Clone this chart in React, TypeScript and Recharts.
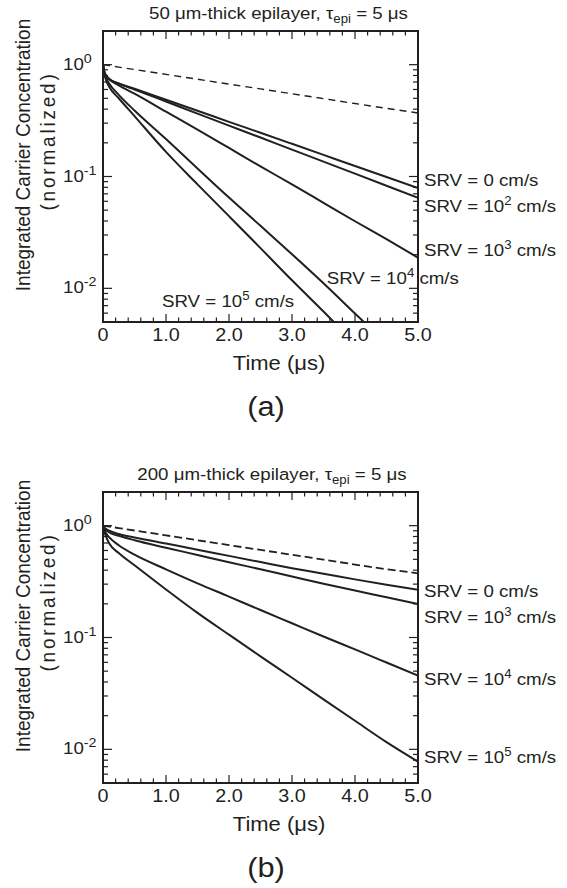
import React from "react";
import { LineChart, Line, XAxis, YAxis } from "recharts";

// ---------- data ----------
const TIMES = [0, 0.02, 0.05, 0.1, 0.25, 0.5, 1, 1.5, 2, 2.5, 3, 3.5, 4, 4.5, 5];

// (a) 50 um-thick epilayer
const A_BULK = [1, 0.996, 0.99, 0.98, 0.951, 0.905, 0.819, 0.741, 0.67, 0.607, 0.549, 0.497, 0.449, 0.407, 0.37];
const A_SRV0 = [1, 0.87, 0.8, 0.745, 0.68, 0.609, 0.485, 0.387, 0.308, 0.246, 0.196, 0.156, 0.124, 0.099, 0.079];
const A_SRV2 = [1, 0.87, 0.8, 0.743, 0.676, 0.599, 0.468, 0.365, 0.285, 0.223, 0.174, 0.136, 0.106, 0.0827, 0.0646];
const A_SRV3 = [1, 0.86, 0.785, 0.735, 0.653, 0.55, 0.38, 0.263, 0.18, 0.123, 0.0851, 0.0582, 0.0398, 0.0275, 0.0188];
const A_SRV4 = [1, 0.851, 0.759, 0.676, 0.537, 0.389, 0.216, 0.118, 0.0648, 0.0362, 0.0202, 0.0111, 0.00595, 0.0032, 0.00172];
const A_SRV5 = [1, 0.832, 0.724, 0.631, 0.501, 0.347, 0.166, 0.0851, 0.0442, 0.0229, 0.0118, 0.0062, 0.00322, 0.00165, 0.00085];

// (b) 200 um-thick epilayer
const B_BULK = [1, 0.996, 0.99, 0.98, 0.951, 0.905, 0.819, 0.741, 0.67, 0.607, 0.549, 0.497, 0.449, 0.407, 0.375];
const B_SRV0 = [1, 0.966, 0.933, 0.902, 0.841, 0.785, 0.692, 0.61, 0.537, 0.473, 0.417, 0.372, 0.331, 0.296, 0.267];
const B_SRV3 = [1, 0.95, 0.912, 0.871, 0.813, 0.741, 0.635, 0.547, 0.471, 0.407, 0.351, 0.303, 0.263, 0.229, 0.199];
const B_SRV4 = [1, 0.92, 0.851, 0.785, 0.668, 0.55, 0.407, 0.305, 0.232, 0.176, 0.134, 0.102, 0.0782, 0.0598, 0.0457];
const B_SRV5 = [1, 0.891, 0.794, 0.692, 0.569, 0.442, 0.269, 0.166, 0.106, 0.0679, 0.0437, 0.028, 0.018, 0.0116, 0.00776];

const X_TICKS = [0, 0.2, 0.4, 0.6, 0.8, 1, 1.2, 1.4, 1.6, 1.8, 2, 2.2, 2.4, 2.6, 2.8, 3, 3.2, 3.4, 3.6, 3.8, 4, 4.2, 4.4, 4.6, 4.8, 5];
const X_LABELS: Record<string, string> = { "0": "0", "1": "1.0", "2": "2.0", "3": "3.0", "4": "4.0", "5": "5.0" };
const Y_TICKS = [0.006, 0.007, 0.008, 0.009, 0.01, 0.02, 0.03, 0.04, 0.05, 0.06, 0.07, 0.08, 0.09, 0.1, 0.2, 0.3, 0.4, 0.5, 0.6, 0.7, 0.8, 0.9, 1];
const Y_LABELS: Record<string, string> = { "1": "0", "0.1": "-1", "0.01": "-2" };

// ---------- style ----------
const INK = "#231f20";
const FONT = "'Liberation Sans', Arial, Helvetica, sans-serif";
const SX = 1.1;
const W = 567;
const H = 444;
const MARGIN = { top: 30, right: 148, bottom: 121, left: 102 };
const AXL = { stroke: INK, strokeWidth: 2, strokeLinecap: "square" as const };

const isMajorX = (v: number) => Math.abs(v - Math.round(v)) < 1e-6;

const BottomTick = (p: any) => {
  const { x, y, payload } = p;
  const v = payload.value;
  const major = isMajorX(v);
  return (
    <g>
      <line x1={x} x2={x} y1={y} y2={y - (major ? 8 : 4.5)} stroke={INK} strokeWidth={1.2} />
      {major && (
        <text transform={`translate(${x},${y + 19}) scale(${SX},1)`} textAnchor="middle" fontSize={18} fill={INK} fontFamily={FONT}>
          {X_LABELS[String(Math.round(v))]}
        </text>
      )}
    </g>
  );
};

const TopTick = (p: any) => {
  const { x, y, payload } = p;
  const major = isMajorX(payload.value);
  return <line x1={x} x2={x} y1={y} y2={y + (major ? 8 : 4.5)} stroke={INK} strokeWidth={1.2} />;
};

const LeftTick = (p: any) => {
  const { x, y, payload } = p;
  const lab = Y_LABELS[String(payload.value)];
  return (
    <g>
      <line x1={x} x2={x + (lab ? 9 : 5)} y1={y} y2={y} stroke={INK} strokeWidth={1.2} />
      {lab && (
        <text transform={`translate(${x - 40},${y + 5}) scale(${SX},1)`} textAnchor="start" fontSize={17} fill={INK} fontFamily={FONT}>
          10
          <tspan fontSize={13} dy={-7}>
            {lab}
          </tspan>
        </text>
      )}
    </g>
  );
};

const RightTick = (p: any) => {
  const { x, y, payload } = p;
  const lab = Y_LABELS[String(payload.value)];
  return <line x1={x} x2={x - (lab ? 9 : 5)} y1={y} y2={y} stroke={INK} strokeWidth={1.2} />;
};

type Series = { key: string; values: number[] };

function buildRows(bulk: number[], series: Series[]) {
  return TIMES.map((t, i) => {
    const row: Record<string, number> = { t, bulk: bulk[i] };
    series.forEach((s) => {
      row[s.key] = s.values[i];
    });
    return row;
  });
}

function Panel({ bulk, series, dashW, dash }: { bulk: number[]; series: Series[]; dashW: number; dash: string }) {
  const rows = buildRows(bulk, series);
  return (
    <LineChart width={W} height={H} data={rows} margin={MARGIN}>
      <XAxis
        xAxisId="b"
        dataKey="t"
        type="number"
        domain={[0, 5]}
        allowDataOverflow
        ticks={X_TICKS}
        interval={0}
        height={1}
        tickSize={0}
        tickMargin={0}
        tickLine={false}
        axisLine={AXL}
        tick={(p: any) => <BottomTick {...p} />}
      />
      <XAxis
        xAxisId="t"
        orientation="top"
        dataKey="t"
        type="number"
        domain={[0, 5]}
        allowDataOverflow
        ticks={X_TICKS}
        interval={0}
        height={1}
        tickSize={0}
        tickMargin={0}
        tickLine={false}
        axisLine={AXL}
        tick={(p: any) => <TopTick {...p} />}
      />
      <YAxis
        yAxisId="l"
        type="number"
        scale="log"
        domain={[0.005, 2]}
        allowDataOverflow
        ticks={Y_TICKS}
        interval={0}
        width={1}
        tickSize={0}
        tickMargin={0}
        tickLine={false}
        axisLine={AXL}
        tick={(p: any) => <LeftTick {...p} />}
      />
      <YAxis
        yAxisId="r"
        orientation="right"
        type="number"
        scale="log"
        domain={[0.005, 2]}
        allowDataOverflow
        ticks={Y_TICKS}
        interval={0}
        width={1}
        tickSize={0}
        tickMargin={0}
        tickLine={false}
        axisLine={AXL}
        tick={(p: any) => <RightTick {...p} />}
      />
      <Line
        xAxisId="b"
        yAxisId="l"
        dataKey="bulk"
        type="linear"
        stroke={INK}
        strokeWidth={dashW}
        strokeDasharray={dash}
        dot={false}
        isAnimationActive={false}
      />
      {series.map((s) => (
        <Line
          key={s.key}
          xAxisId="b"
          yAxisId="l"
          dataKey={s.key}
          type="monotone"
          stroke={INK}
          strokeWidth={2}
          dot={false}
          isAnimationActive={false}
        />
      ))}
    </LineChart>
  );
}

function T({ x, y, size, anchor = "start", rotate = false, spacing, children }: any) {
  const tr = `translate(${x},${y}) scale(${SX},1)` + (rotate ? " rotate(-90)" : "");
  return (
    <text transform={tr} fontSize={size} textAnchor={anchor} fill={INK} fontFamily={FONT} letterSpacing={spacing}>
      {children}
    </text>
  );
}

function Sup({ v }: { v: string }) {
  return (
    <>
      <tspan fontSize={12} dy={-7}>
        {v}
      </tspan>
      <tspan dy={7}> cm/s</tspan>
    </>
  );
}

function PanelText({ dy, title, titleX, tag, labels }: any) {
  return (
    <g>
      <T x={titleX} y={19 + dy} size={17}>
        {title}
        <tspan fontSize={12} dy={4}>
          epi
        </tspan>
        <tspan dy={-4}> = 5 μs</tspan>
      </T>
      <T x={30} y={155 + dy} size={19} anchor="middle" rotate>
        Integrated Carrier Concentration
      </T>
      <T x={54.5} y={141 + dy} size={19} anchor="middle" rotate spacing={2.8}>
        (normalized)
      </T>
      <T x={279} y={370 + dy} size={20} anchor="middle">
        Time (μs)
      </T>
      <T x={266} y={416 + dy} size={28} anchor="middle">
        {tag}
      </T>
      {labels}
    </g>
  );
}

export default function App() {
  const dyB = 461;
  return (
    <div style={{ position: "absolute", left: 0, top: 0, width: W, height: 888, background: "#fff" }}>
      <div style={{ position: "absolute", left: 0, top: 0 }}>
        <Panel
          bulk={A_BULK}
          dashW={1.4}
          dash="7 5"
          series={[
            { key: "s0", values: A_SRV0 },
            { key: "s2", values: A_SRV2 },
            { key: "s3", values: A_SRV3 },
            { key: "s4", values: A_SRV4 },
            { key: "s5", values: A_SRV5 },
          ]}
        />
      </div>
      <div style={{ position: "absolute", left: 0, top: dyB }}>
        <Panel
          bulk={B_BULK}
          dashW={1.8}
          dash="8 4"
          series={[
            { key: "s0", values: B_SRV0 },
            { key: "s3", values: B_SRV3 },
            { key: "s4", values: B_SRV4 },
            { key: "s5", values: B_SRV5 },
          ]}
        />
      </div>
      <svg width={W} height={888} style={{ position: "absolute", left: 0, top: 0, pointerEvents: "none" }}>
        <PanelText
          dy={0}
          titleX={149}
          title="50 μm-thick epilayer, τ"
          tag="(a)"
          labels={
            <g>
              <T x={424} y={186} size={17}>SRV = 0 cm/s</T>
              <T x={424} y={211.5} size={17}>SRV = 10<Sup v="2" /></T>
              <T x={424} y={256} size={17}>SRV = 10<Sup v="3" /></T>
              <T x={326.7} y={284} size={17}>SRV = 10<Sup v="4" /></T>
              <T x={162} y={306.7} size={17}>SRV = 10<Sup v="5" /></T>
            </g>
          }
        />
        <PanelText
          dy={dyB}
          titleX={137.3}
          title="200 μm-thick epilayer, τ"
          tag="(b)"
          labels={
            <g>
              <T x={424} y={596.7} size={17}>SRV = 0 cm/s</T>
              <T x={424} y={622.7} size={17}>SRV = 10<Sup v="3" /></T>
              <T x={424} y={685} size={17}>SRV = 10<Sup v="4" /></T>
              <T x={424} y={763.3} size={17}>SRV = 10<Sup v="5" /></T>
            </g>
          }
        />
      </svg>
    </div>
  );
}
